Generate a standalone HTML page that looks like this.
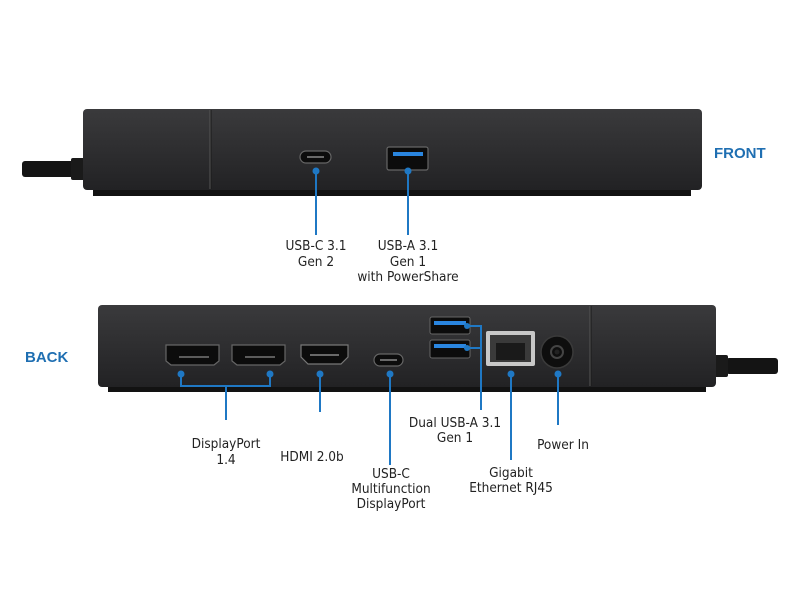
<!DOCTYPE html>
<html><head><meta charset="utf-8"><style>
html,body{margin:0;padding:0;background:#fff;}
svg{display:block;}
text{font-family:"DejaVu Sans Condensed","Liberation Sans Narrow","Liberation Sans",sans-serif;font-size:13.5px;fill:#222;}
.h{font-family:"Liberation Sans",sans-serif;font-weight:bold;font-size:15px;fill:#1f6fb2;}
.l{stroke:#1f78c4;stroke-width:2;fill:none;}
.d{fill:#1f78c4;}
</style></head><body>
<svg width="800" height="600" viewBox="0 0 800 600">
<defs>
<linearGradient id="g" x1="0" y1="0" x2="0" y2="1">
<stop offset="0" stop-color="#3a3a3c"/><stop offset="1" stop-color="#222224"/>
</linearGradient>
</defs>
<!-- FRONT -->
<rect x="22" y="161" width="52" height="16" rx="3" fill="#141414"/>
<rect x="71" y="158" width="14" height="22" rx="2" fill="#1a1a1a"/>
<rect x="93" y="186" width="598" height="10" fill="#121212"/>
<rect x="83" y="109" width="619" height="81" rx="4" fill="url(#g)"/>
<line x1="210" y1="110" x2="210" y2="189" stroke="#555" stroke-width="1"/>
<line x1="211" y1="110" x2="211" y2="189" stroke="#1a1a1a" stroke-width="1"/>
<rect x="300" y="151" width="31" height="12" rx="6" fill="#0c0c0c" stroke="#666" stroke-width="1.2"/>
<line x1="307" y1="157" x2="324" y2="157" stroke="#888" stroke-width="1.5"/>
<rect x="387" y="147" width="41" height="23" rx="2" fill="#0c0c0c" stroke="#666" stroke-width="1.2"/>
<rect x="393" y="152" width="30" height="4" fill="#2a86e0"/>
<line class="l" x1="316" y1="170" x2="316" y2="235"/><circle class="d" cx="316" cy="171" r="3.5"/>
<line class="l" x1="408" y1="170" x2="408" y2="235"/><circle class="d" cx="408" cy="171" r="3.5"/>
<text x="316" y="250" text-anchor="middle">USB-C 3.1</text>
<text x="316" y="266" text-anchor="middle">Gen 2</text>
<text x="408" y="250" text-anchor="middle">USB-A 3.1</text>
<text x="408" y="266" text-anchor="middle">Gen 1</text>
<text x="408" y="281" text-anchor="middle">with PowerShare</text>
<text class="h" x="714" y="158">FRONT</text>
<!-- BACK -->
<rect x="726" y="358" width="52" height="16" rx="3" fill="#141414"/>
<rect x="714" y="355" width="14" height="22" rx="2" fill="#1a1a1a"/>
<rect x="108" y="382" width="598" height="10" fill="#121212"/>
<rect x="98" y="305" width="618" height="82" rx="4" fill="url(#g)"/>
<line x1="590" y1="306" x2="590" y2="386" stroke="#555" stroke-width="1"/>
<line x1="591" y1="306" x2="591" y2="386" stroke="#1a1a1a" stroke-width="1"/>
<path d="M166 345 H219 V361 L214 365 H171 L166 361 Z" fill="#0c0c0c" stroke="#666" stroke-width="1.2"/>
<line x1="179" y1="357" x2="209" y2="357" stroke="#777" stroke-width="1.5"/>
<path d="M232 345 H285 V361 L280 365 H237 L232 361 Z" fill="#0c0c0c" stroke="#666" stroke-width="1.2"/>
<line x1="245" y1="357" x2="275" y2="357" stroke="#777" stroke-width="1.5"/>
<path d="M301 345 H348 V357 L341 364 H308 L301 357 Z" fill="#0c0c0c" stroke="#777" stroke-width="1.2"/>
<line x1="310" y1="355" x2="339" y2="355" stroke="#888" stroke-width="1.5"/>
<rect x="374" y="354" width="29" height="12" rx="6" fill="#0c0c0c" stroke="#666" stroke-width="1.2"/>
<line x1="380" y1="360" x2="397" y2="360" stroke="#888" stroke-width="1.5"/>
<rect x="430" y="317" width="40" height="17" rx="2" fill="#0c0c0c" stroke="#666" stroke-width="1"/>
<rect x="434" y="321" width="32" height="4" fill="#2a86e0"/>
<rect x="430" y="340" width="40" height="18" rx="2" fill="#0c0c0c" stroke="#666" stroke-width="1"/>
<rect x="434" y="344" width="32" height="4" fill="#2a86e0"/>
<rect x="486" y="331" width="49" height="35" rx="2" fill="#c8c8c8"/>
<rect x="490" y="335" width="41" height="27" fill="#3a3a3a"/>
<rect x="496" y="343" width="29" height="17" fill="#1a1a1a"/>
<circle cx="557" cy="352" r="16" fill="#0e0e0e" stroke="#3a3a3a" stroke-width="1.5"/>
<circle cx="557" cy="352" r="6" fill="none" stroke="#444" stroke-width="2"/>
<circle cx="557" cy="352" r="2.5" fill="#222"/>
<polyline class="l" points="181,373 181,386 270,386 270,373"/>
<line class="l" x1="226" y1="386" x2="226" y2="420"/>
<circle class="d" cx="181" cy="374" r="3.5"/><circle class="d" cx="270" cy="374" r="3.5"/>
<line class="l" x1="320" y1="373" x2="320" y2="412"/><circle class="d" cx="320" cy="374" r="3.5"/>
<line class="l" x1="390" y1="373" x2="390" y2="465"/><circle class="d" cx="390" cy="374" r="3.5"/>
<polyline class="l" points="468,326 481,326 481,410"/>
<line class="l" x1="468" y1="348" x2="481" y2="348"/>
<circle class="d" cx="467" cy="326" r="3"/><circle class="d" cx="467" cy="348" r="3"/>
<line class="l" x1="511" y1="373" x2="511" y2="460"/><circle class="d" cx="511" cy="374" r="3.5"/>
<line class="l" x1="558" y1="373" x2="558" y2="425"/><circle class="d" cx="558" cy="374" r="3.5"/>
<text x="226" y="448" text-anchor="middle">DisplayPort</text>
<text x="226" y="464" text-anchor="middle">1.4</text>
<text x="312" y="461" text-anchor="middle">HDMI 2.0b</text>
<text x="391" y="478" text-anchor="middle">USB-C</text>
<text x="391" y="493" text-anchor="middle">Multifunction</text>
<text x="391" y="508" text-anchor="middle">DisplayPort</text>
<text x="455" y="427" text-anchor="middle">Dual USB-A 3.1</text>
<text x="455" y="442" text-anchor="middle">Gen 1</text>
<text x="511" y="477" text-anchor="middle">Gigabit</text>
<text x="511" y="492" text-anchor="middle">Ethernet RJ45</text>
<text x="563" y="449" text-anchor="middle">Power In</text>
<text class="h" x="25" y="362">BACK</text>
</svg>
</body></html>
